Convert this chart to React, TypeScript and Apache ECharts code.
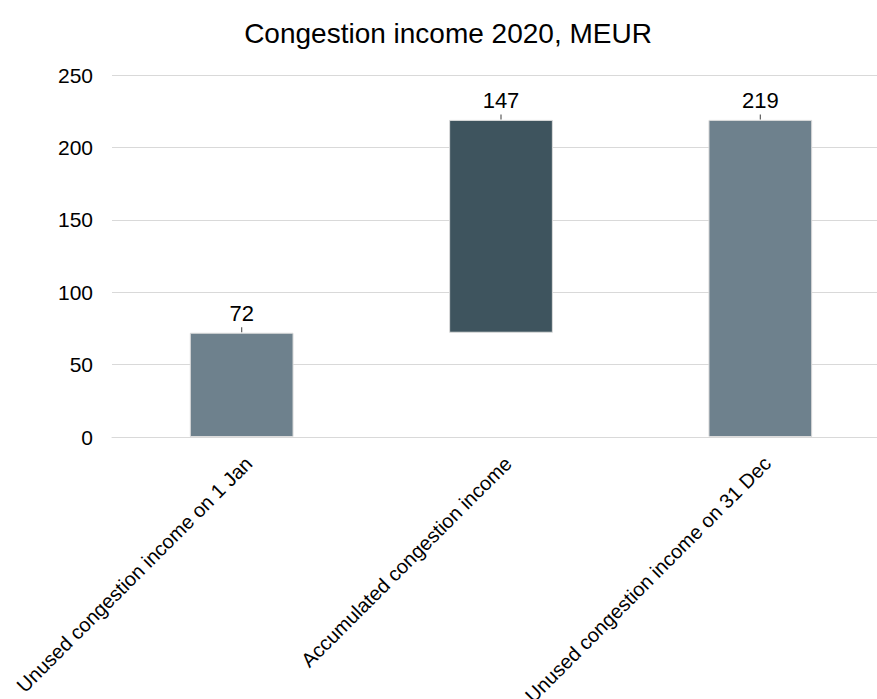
import React, { useEffect, useRef } from "react";
import * as echarts from "echarts";

const title = "Congestion income 2020, MEUR";
const categories = [
  "Unused congestion income on 1 Jan",
  "Accumulated congestion income",
  "Unused congestion income on 31 Dec",
];
const baseValues = [0, 72, 0];
const barValues = [72, 147, 219];
const barColors = ["#6e818d", "#3e545e", "#6e818d"];
const yTicks = { min: 0, max: 250, interval: 50 };

export default function App() {
  const ref = useRef<HTMLDivElement>(null);
  useEffect(() => {
    if (!ref.current) return;
    const chart = echarts.init(ref.current, undefined, { renderer: "svg" });
    const font = "'Liberation Sans', Arial, sans-serif";
    const tops = barValues.map((v, i) => [categories[i], v + baseValues[i]]);
    chart.setOption({
      animation: false,
      backgroundColor: "#ffffff",
      textStyle: { fontFamily: font },
      title: {
        text: title,
        left: 443,
        top: 14,
        textAlign: "center",
        textStyle: { fontSize: 28, fontWeight: "normal", color: "#000", fontFamily: font },
      },
      grid: {
        left: 112,
        right: -13,
        top: 75,
        bottom: 262,
        containLabel: false,
        outerBoundsMode: "none",
      },
      xAxis: {
        type: "category",
        data: categories,
        axisLine: { show: true, lineStyle: { color: "#d9d9d9", width: 1 } },
        axisTick: { show: false },
        axisLabel: {
          rotate: 45,
          margin: 16,
          verticalAlign: "top",
          fontSize: 20,
          color: "#000",
          fontFamily: font,
          interval: 0,
        },
      },
      yAxis: {
        type: "value",
        min: yTicks.min,
        max: yTicks.max,
        interval: yTicks.interval,
        axisLine: { show: false },
        axisTick: { show: false },
        splitLine: { lineStyle: { color: "#d9d9d9", width: 1 } },
        axisLabel: { fontSize: 21, color: "#000", margin: 19, fontFamily: font },
      },
      series: [
        {
          type: "bar",
          stack: "total",
          data: baseValues,
          itemStyle: { color: "transparent" },
          emphasis: { disabled: true },
          silent: true,
          barCategoryGap: "60%",
        },
        {
          type: "bar",
          stack: "total",
          barCategoryGap: "60%",
          data: barValues.map((v, i) => ({
            value: v,
            itemStyle: { color: barColors[i], borderColor: "#dcdcdc", borderWidth: 1 },
          })),
          label: {
            show: true,
            position: "top",
            distance: 8,
            fontSize: 22,
            color: "#000",
            fontFamily: font,
            formatter: "{c}",
          },
        },
        {
          type: "scatter",
          data: tops,
          symbol: "rect",
          symbolSize: [1.2, 5],
          symbolOffset: [0, -3],
          itemStyle: { color: "#333" },
          silent: true,
          z: 5,
        },
      ],
    });
    return () => chart.dispose();
  }, []);
  return (
    <div
      ref={ref}
      style={{ position: "absolute", left: 0, top: 0, width: 877, height: 699 }}
    />
  );
}
